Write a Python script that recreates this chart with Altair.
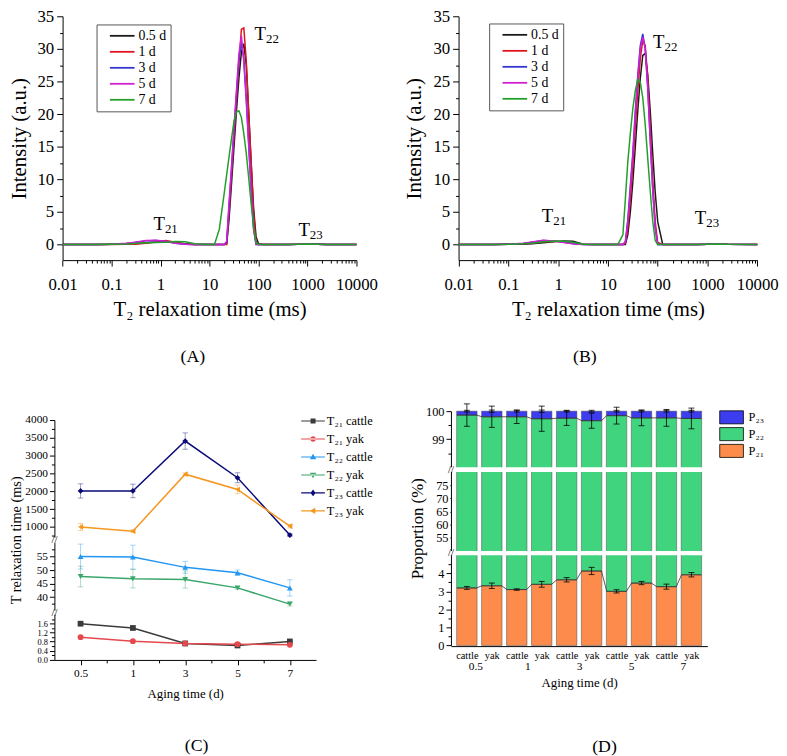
import altair as alt
import pandas as pd

FONT = "Times New Roman, Liberation Serif, serif"
BLACK = "#000000"

# ---------------- Panels A & B : T2 relaxation spectra ----------------
t2_ms = [0.01, 0.05, 0.1, 0.2, 0.3, 0.5, 0.8, 1.3, 2, 3.2, 5, 10, 12.6, 15.8,
         20, 22.4, 25.1, 28.2, 31.6, 35.5, 39.8, 44.7, 50.1, 56.2, 63.1, 70.8,
         79.4, 89.1, 100, 126, 400, 630, 1000, 1600, 2500, 10000]
spec_days = ["0.5 d", "1 d", "3 d", "5 d", "7 d"]
spec_colors = ["#1a1a1a", "#e0141e", "#3535d0", "#d11fd1", "#22a02a"]

a_05d = [0, 0, 0.02, 0.05, 0.12, 0.25, 0.35, 0.4, 0.3, 0.1, 0,
         0, 0, 0, 0, 0.1, 4, 9.5, 15, 20.5, 25.5, 29.5, 30.8, 27.5, 20, 12.5,
         5.5, 1.2, 0.1, 0, 0, 0.03, 0.1, 0.04, 0, 0]
a_1d = [0, 0, 0, 0.02, 0.05, 0.2, 0.4, 0.6, 0.35, 0.05, 0,
        0, 0, 0, 0, 0, 5, 10.7, 16.4, 22, 27.8, 33, 33.2, 28.2, 20.4, 12.6,
        4.8, 0.3, 0, 0, 0, 0.02, 0.08, 0.03, 0, 0]
a_3d = [0, 0, 0.05, 0.15, 0.3, 0.55, 0.6, 0.45, 0.2, 0.02, 0,
        0, 0, 0, 0, 0.3, 6, 11.7, 17.4, 23.1, 28.5, 31, 28.5, 22.5, 15.5, 8.5,
        2.5, 0, 0, 0, 0, 0.02, 0.06, 0.02, 0, 0]
a_5d = [0, 0, 0.05, 0.18, 0.35, 0.6, 0.65, 0.5, 0.2, 0.02, 0,
        0, 0, 0, 0, 0.5, 6.5, 12.2, 18, 23.7, 29.2, 32, 28, 22, 15, 8,
        2.2, 0, 0, 0, 0, 0.02, 0.06, 0.02, 0, 0]
a_7d = [0, 0, 0.02, 0.08, 0.15, 0.25, 0.3, 0.35, 0.45, 0.4, 0.1,
        0, 0, 2.3, 7.9, 10.7, 13.5, 16.3, 18.9, 20.3, 20.5, 19.5, 17, 14, 10.2, 6.2,
        2.7, 0.3, 0, 0, 0, 0.03, 0.08, 0.03, 0, 0]

b_05d = [0, 0, 0.02, 0.05, 0.1, 0.25, 0.4, 0.55, 0.5, 0.05, 0,
         0, 0, 0, 0, 0, 1.5, 5, 9.5, 15, 20.5, 25.5, 29, 29.3, 26, 20.5,
         14, 8, 3.5, 0, 0, 0, 0.04, 0.12, 0.04, 0]
b_1d = [0, 0, 0.03, 0.1, 0.2, 0.4, 0.5, 0.4, 0.2, 0.02, 0,
        0, 0, 0, 0, 0.2, 2.5, 7, 12, 18, 23.5, 28.5, 31.3, 30.5, 25.5, 18,
        10, 3.5, 0.3, 0, 0, 0, 0.03, 0.08, 0.03, 0]
b_3d = [0, 0, 0.05, 0.15, 0.35, 0.6, 0.55, 0.35, 0.1, 0, 0,
        0, 0, 0, 0, 0.4, 3.8, 9, 14, 20.5, 26, 30.5, 32.3, 30, 24, 16,
        8.5, 2.5, 0, 0, 0, 0, 0.03, 0.08, 0.03, 0]
b_5d = [0, 0, 0.05, 0.18, 0.4, 0.65, 0.55, 0.3, 0.1, 0, 0,
        0, 0, 0, 0, 0.4, 3.5, 8.5, 13.5, 20, 25.5, 30, 31.8, 30, 24, 16,
        8.5, 2.5, 0, 0, 0, 0, 0.03, 0.08, 0.03, 0]
b_7d = [0, 0, 0.02, 0.1, 0.2, 0.4, 0.5, 0.5, 0.35, 0.05, 0,
        0, 0, 0, 1.5, 7, 12.7, 17, 20.8, 23.6, 25.3, 24.9, 22.5, 18.3, 13.2, 8.2,
        3.6, 0.6, 0, 0, 0, 0, 0.03, 0.08, 0.03, 0]

peak_subs = ["21", "22", "23"]
a_peak_x = [1.23, 142, 1117]
a_peak_y = [3.1, 32.2, 2.24]
b_peak_x = [0.80, 137, 948]
b_peak_y = [4.3, 31.0, 4.06]

# ---------------- Panel C : relaxation times ----------------
c_days = ["0.5", "1", "3", "5", "7"]
c_series = ["T₂₁ cattle", "T₂₁ yak", "T₂₂ cattle", "T₂₂ yak", "T₂₃ cattle", "T₂₃ yak"]
c_colors = ["#3b3b3b", "#e5484d", "#2196f3", "#3ba66b", "#0a0a78", "#f5961e"]
c_markers = ["square", "circle", "triangle-up", "triangle-down", "diamond", "triangle-left"]
LINE_BAR = "M-1.5,-0.07H1.5V0.07H-1.5Z"
c_legend_paths = [
    LINE_BAR + "M-0.32,-0.32H0.32V0.32H-0.32Z",
    LINE_BAR + "M-0.36,0A0.36,0.36 0 1,0 0.36,0A0.36,0.36 0 1,0 -0.36,0Z",
    LINE_BAR + "M0,-0.42L0.4,0.28H-0.4Z",
    LINE_BAR + "M0,0.42L0.4,-0.28H-0.4Z",
    LINE_BAR + "M0,-0.42L0.32,0L0,0.42L-0.32,0Z",
    LINE_BAR + "M-0.42,0L0.28,-0.4V0.4Z",
]
t21_cattle = [1.60, 1.41, 0.72, 0.63, 0.81]
t21_cattle_sd = [0.06, 0.06, 0.04, 0.04, 0.04]
t21_yak = [1.00, 0.82, 0.72, 0.69, 0.66]
t21_yak_sd = [0.04, 0.03, 0.03, 0.03, 0.03]
t22_cattle = [55.0, 54.8, 51.0, 49.0, 43.4]
t22_cattle_sd = [4.6, 4.4, 2.2, 1.0, 3.0]
t22_yak = [47.6, 46.8, 46.5, 43.4, 37.4]
t22_yak_sd = [3.8, 3.4, 3.2, 0.5, 0.7]
t23_cattle = [2010, 2010, 3410, 2380, 770]
t23_cattle_sd = [200, 190, 230, 140, 40]
t23_yak = [1000, 880, 2480, 2050, 1020]
t23_yak_sd = [100, 40, 40, 120, 50]

# ---------------- Panel D : proportions ----------------
d_days = ["0.5", "1", "3", "5", "7"]
d_breeds = ["cattle", "yak"]
p21 = [3.19, 3.31, 3.10, 3.39, 3.64, 4.13, 3.00, 3.46, 3.26, 3.92]
p21_sd = [0.08, 0.15, 0.04, 0.16, 0.12, 0.20, 0.09, 0.09, 0.14, 0.12]
p22 = [96.67, 96.49, 96.70, 96.34, 96.11, 95.53, 96.84, 96.30, 96.50, 95.82]
p22_sd = [0.40, 0.38, 0.24, 0.45, 0.26, 0.27, 0.30, 0.28, 0.30, 0.37]
p23 = [0.14, 0.20, 0.20, 0.27, 0.25, 0.34, 0.16, 0.24, 0.24, 0.26]
p23_sd = [0.03, 0.04, 0.03, 0.04, 0.03, 0.03, 0.03, 0.03, 0.03, 0.03]
comp_names = ["P₂₃", "P₂₂", "P₂₁"]
comp_colors = ["#3d3df0", "#40d47e", "#fd8c4c"]


def ax(**kw):
    base = dict(grid=False, domainColor=BLACK, tickColor=BLACK, labelColor=BLACK,
                titleColor=BLACK, labelFont=FONT, titleFont=FONT, titleFontWeight="normal",
                domainWidth=1, tickWidth=1, labelFlush=False, labelOverlap=False)
    base.update(kw)
    return alt.Axis(**base)


def panel_title(text, offset, dx):
    return alt.TitleParams(text, orient="bottom", anchor="middle", frame="bounds", font=FONT,
                           fontSize=18, fontWeight="normal", color=BLACK, offset=offset, dx=dx)


LOG_MAJOR = "abs(log(datum.value)/LN10 - round(log(datum.value)/LN10)) < 0.001"
log_ticks = [m * 10.0 ** e for e in range(-2, 4) for m in range(1, 10)] + [10000.0]
int_ticks = [i * 2.5 for i in range(15)]


def spectrum(series, px, py, x_off, plot_w, leg_x, leg_y, title_x, label, label_dx):
    rows = []
    for d, vals in zip(spec_days, series):
        for t, v in zip(t2_ms, vals):
            rows.append({"t2": t, "val": v, "day": d})
    df = pd.DataFrame(rows)
    xs = alt.Scale(type="log", domain=[0.01, 10000], range=[x_off, x_off + plot_w])
    ys = alt.Scale(domain=[-2.4, 35], nice=False, zero=False)
    x_axis = ax(values=log_ticks, labelExpr=f"{LOG_MAJOR} ? format(datum.value, '') : ''",
                tickSize={"condition": {"test": LOG_MAJOR, "value": 6}, "value": 3},
                labelFontSize=17, labelPadding=10.5, title="T₂ relaxation time (ms)",
                titleFontSize=21, titlePadding=7)
    y_axis = ax(values=int_ticks, labelExpr="datum.value % 5 == 0 ? datum.label : ''",
                tickSize={"condition": {"test": "datum.value % 5 == 0", "value": 6}, "value": 3},
                labelFontSize=17, labelPadding=3, offset=-x_off, title="Intensity (a.u.)",
                titleFontSize=21, titleX=title_x, titleBaseline="middle")
    leg = alt.Legend(orient="none", legendX=leg_x, legendY=leg_y, title=None,
                     symbolType="M-2,0H2", symbolSize=156, symbolStrokeWidth=1.8,
                     symbolOffset=14.5, labelOffset=9, labelFont=FONT, labelFontSize=14,
                     labelColor=BLACK, rowPadding=1.2, padding=4, strokeColor="#555",
                     fillColor="white")
    lines = alt.Chart(df).mark_line(strokeWidth=1.5).encode(
        x=alt.X("t2:Q", scale=xs, axis=x_axis),
        y=alt.Y("val:Q", scale=ys, axis=y_axis),
        color=alt.Color("day:N", scale=alt.Scale(domain=spec_days, range=spec_colors), legend=leg),
    )
    adf = pd.DataFrame({"x": px, "y": py, "sub": peak_subs})
    t_main = alt.Chart(adf).mark_text(text="T", align="right", baseline="middle", font=FONT,
                                      fontSize=19, color=BLACK).encode(
        x=alt.X("x:Q", scale=xs, axis=x_axis), y=alt.Y("y:Q", scale=ys, axis=y_axis))
    t_sub = alt.Chart(adf).mark_text(align="left", baseline="middle", dy=5, font=FONT,
                                     fontSize=13, color=BLACK).encode(
        x=alt.X("x:Q", scale=xs, axis=x_axis), y=alt.Y("y:Q", scale=ys, axis=y_axis), text="sub:N")
    return alt.layer(lines, t_main, t_sub).properties(
        width=x_off + plot_w, height=247, title=panel_title(label, 28.5, label_dx))


pA = spectrum([a_05d, a_1d, a_3d, a_5d, a_7d], a_peak_x, a_peak_y, 8.3, 297.7, 42.7, 8.3, -44, "(A)", 0)
pB = spectrum([b_05d, b_1d, b_3d, b_5d, b_7d], b_peak_x, b_peak_y, 7.7, 302.6, 38.7, 7.3, -45, "(B)", -6)

# ---------------- Panel C build ----------------
c_vals = [t21_cattle, t21_yak, t22_cattle, t22_yak, t23_cattle, t23_yak]
c_sds = [t21_cattle_sd, t21_yak_sd, t22_cattle_sd, t22_yak_sd, t23_cattle_sd, t23_yak_sd]
crow = []
for s, m, col, vals, sds in zip(c_series, c_markers, c_colors, c_vals, c_sds):
    for i, (v, e) in enumerate(zip(vals, sds)):
        crow.append({"idx": i, "series": s, "marker": m, "col": col,
                     "val": v, "lo": v - e, "hi": v + e})
cdf = pd.DataFrame(crow)

cx = alt.Scale(domain=[-0.5, 4.5], range=[0, 265])
cy = alt.Scale(type="linear", domain=[0, 2, 35, 60, 700, 4000],
               range=[252.7, 207.2, 203, 134.6, 129.1, 10], nice=False, zero=False)

C_MAJOR = ("(datum.value <= 2 ? abs(datum.value*2.5 - round(datum.value*2.5)) < 0.01 : "
           "(datum.value <= 60 ? datum.value % 5 == 0 : datum.value % 500 == 0))")
c_y_ticks = ([round(i * 0.2, 1) for i in range(10)] + [37.5 + 2.5 * i for i in range(9)]
             + [750 + 250 * i for i in range(14)])
c_day_arr = "[" + ",".join(f"'{d}'" for d in c_days) + "]"
c_x_axis = ax(values=[i * 0.5 for i in range(9)],
              labelExpr=f"datum.value % 1 == 0 ? {c_day_arr}[datum.value] : ''",
              tickSize={"condition": {"test": "datum.value % 1 == 0", "value": 5}, "value": 3},
              labelFontSize=11.5, labelPadding=3, title="Aging time (d)", titleFontSize=13,
              titlePadding=9)
c_y_axis = ax(values=c_y_ticks,
              labelExpr=f"{C_MAJOR} ? (datum.value <= 2 ? format(datum.value, '.1f') : format(datum.value, 'd')) : ''",
              tickSize={"condition": {"test": C_MAJOR, "value": 5}, "value": 3},
              labelFontSize={"condition": {"test": "datum.value <= 2", "value": 8.5}, "value": 11.5},
              labelPadding=2, title="T relaxation time (ms)",
              titleFontSize=14.5, titleX=-38.7, titleBaseline="middle")
c_legend = alt.Legend(orient="none", legendX=254, legendY=3, title=None, padding=0,
                      symbolSize=256, symbolStrokeWidth=0, symbolOpacity=1, labelOffset=6,
                      rowPadding=3.2, labelFont=FONT, labelFontSize=12.5, labelColor=BLACK,
                      labelLimit=200)


def CX():
    return alt.X("idx:Q", scale=cx, axis=c_x_axis)


def CY(field):
    return alt.Y(field, scale=cy, axis=c_y_axis)


c_leg = alt.Chart(cdf).mark_point(filled=True, size=256, opacity=0).encode(
    x=CX(), y=CY("val:Q"),
    color=alt.Color("series:N", scale=alt.Scale(domain=c_series, range=c_colors), legend=c_legend),
    shape=alt.Shape("series:N", scale=alt.Scale(domain=c_series, range=c_legend_paths), legend=c_legend))
c_err = alt.Chart(cdf).mark_rule(strokeWidth=1, opacity=0.4).encode(
    x=CX(), y=CY("lo:Q"), y2="hi:Q", stroke=alt.Stroke("col:N", scale=None))
c_caps = alt.Chart(cdf).transform_fold(["lo", "hi"], as_=["end", "yv"]).mark_point(
    shape="stroke", size=30, strokeWidth=1, opacity=0.4, filled=False).encode(
    x=CX(), y=CY("yv:Q"), stroke=alt.Stroke("col:N", scale=None))
c_lines = alt.Chart(cdf).mark_line(strokeWidth=1.5).encode(
    x=CX(), y=CY("val:Q"), stroke=alt.Stroke("col:N", scale=None))
c_pts = alt.Chart(cdf).mark_point(filled=True, size=34, opacity=1).encode(
    x=CX(), y=CY("val:Q"),
    shape=alt.Shape("marker:N", scale=None), fill=alt.Fill("col:N", scale=None))
c_gaps = alt.Chart(pd.DataFrame({"y0": [2, 60], "y1": [35, 700]})).mark_rect(fill="white").encode(
    x=alt.value(-4), x2=alt.value(4), y=CY("y0:Q"), y2="y1:Q")
c_breaks = alt.Chart(pd.DataFrame({"yb": [18, 380]})).mark_text(
    text="//", font=FONT, fontSize=11, color=BLACK).encode(x=alt.value(0), y=CY("yb:Q"))
pC = alt.layer(c_leg, c_lines, c_err, c_caps, c_pts, c_gaps, c_breaks).properties(
    width=265, height=253, title=panel_title("(C)", 37, 6))

# ---------------- Panel D build ----------------
HALF = 0.394
brow, erow, crow2 = [], [], []
for i in range(10):
    base = 0.0
    for comp, val in [("P₂₁", p21[i]), ("P₂₂", p22[i]), ("P₂₃", p23[i])]:
        brow.append({"pos": i, "comp": comp, "lo": base, "hi": base + val})
        base += val
    for comp, top, sd in [("P₂₁", p21[i], p21_sd[i]), ("P₂₂", p21[i] + p22[i], p22_sd[i]),
                          ("P₂₃", p21[i] + p22[i] + p23[i], p23_sd[i])]:
        erow.append({"pos": i, "lo": top - sd, "hi": top + sd})
    for lvl, top in [("a", p21[i]), ("b", p21[i] + p22[i])]:
        crow2.append({"pos": i - HALF, "lvl": lvl, "top": top})
        crow2.append({"pos": i + HALF, "lvl": lvl, "top": top})
bdf, edf, ldf = pd.DataFrame(brow), pd.DataFrame(erow), pd.DataFrame(crow2)

dxs = alt.Scale(domain=[-0.44, 9.44], range=[0, 259.7])
dys = alt.Scale(type="linear", domain=[0, 5, 50, 80, 98, 100],
                range=[238.3, 147, 142.7, 62.7, 57.7, 1], nice=False, zero=False)
D_MAJOR = "(datum.value >= 50 && datum.value <= 80) ? datum.value % 5 == 0 : datum.value % 1 == 0"
d_y_ticks = ([0.5 * i for i in range(10)] + [52.5 + 2.5 * i for i in range(11)] + [98.5, 99, 99.5, 100])
d_y_axis = ax(values=d_y_ticks, labelExpr=f"({D_MAJOR}) ? format(datum.value, 'd') : ''",
              tickSize={"condition": {"test": D_MAJOR, "value": 5}, "value": 3},
              labelFontSize=12.5, labelPadding=2, title="Proportion (%)", titleFontSize=17,
              titleX=-34, titleBaseline="middle")
breed_arr = "[" + ",".join(f"'{b}'" for b in d_breeds) + "]"
d_x_axis = ax(values=list(range(10)), labelExpr=f"{breed_arr}[datum.value % 2]", ticks=False,
              labelFontSize=10.5, labelPadding=5, title=None)
d_legend = alt.Legend(orient="none", legendX=278, legendY=1, title=None, padding=0,
                      symbolType="M-2.4,-1.32H2.4V1.32H-2.4Z", symbolSize=100,
                      symbolStrokeColor=BLACK, symbolStrokeWidth=0.8, symbolOpacity=1,
                      labelOffset=11, rowPadding=0, labelFont=FONT, labelFontSize=12.5,
                      labelColor=BLACK)


def DXE():
    return alt.X("pos:Q", scale=dxs, axis=d_x_axis)


def DYE(field):
    return alt.Y(field, scale=dys, axis=d_y_axis)


d_bars = alt.Chart(bdf).mark_bar(width=20.7, stroke="#4a4a4a", strokeWidth=0.5).encode(
    x=DXE(), y=DYE("lo:Q"), y2="hi:Q",
    fill=alt.Fill("comp:N", scale=alt.Scale(domain=comp_names, range=comp_colors), legend=d_legend))
d_conn = alt.Chart(ldf).mark_line(stroke="#333333", strokeWidth=0.8).encode(
    x=DXE(), y=DYE("top:Q"), detail="lvl:N")
d_err = alt.Chart(edf).mark_rule(stroke=BLACK, strokeWidth=0.8).encode(
    x=DXE(), y=DYE("lo:Q"), y2="hi:Q")
d_caps = alt.Chart(edf).transform_fold(["lo", "hi"], as_=["end", "yv"]).mark_point(
    shape="stroke", size=36, stroke=BLACK, strokeWidth=0.8, filled=False, opacity=1).encode(
    x=DXE(), y=DYE("yv:Q"))
d_gaps = alt.Chart(pd.DataFrame({"y0": [5, 80], "y1": [50, 98]})).mark_rect(fill="white").encode(
    x=alt.value(-5), x2=alt.value(264), y=DYE("y0:Q"), y2="y1:Q")
d_breaks = alt.Chart(pd.DataFrame({"yb": [27, 89]})).mark_text(
    text="//", font=FONT, fontSize=11, color=BLACK).encode(x=alt.value(0), y=DYE("yb:Q"))
d_main = alt.layer(d_bars, d_conn, d_err, d_caps, d_gaps, d_breaks)

day_pos = [0.5, 2.5, 4.5, 6.5, 8.5]
d_day_arr = "[" + ",".join(f"'{d}'" for d in d_days) + "]"
d_days_layer = alt.Chart(pd.DataFrame({"dpos": day_pos, "day": d_days})).mark_point(opacity=0).encode(
    x=alt.X("dpos:Q", scale=dxs,
            axis=ax(orient="bottom", values=day_pos,
                    labelExpr=f"{d_day_arr}[round((datum.value - 0.5) / 2)]",
                    ticks=False, domain=False, labelPadding=15, labelFontSize=11.5,
                    title="Aging time (d)", titleFontSize=13, titlePadding=4)))
pD = alt.layer(d_main, d_days_layer).resolve_scale(x="independent").properties(
    width=259.7, height=239, title=panel_title("(D)", 50, 18))

chart = alt.concat(pA, pB, pC, pD, columns=2, spacing={"row": 152, "column": 95.7},
                   bounds="flush").resolve_scale(
    color="independent", fill="independent", stroke="independent", shape="independent"
).properties(padding={"left": 0, "top": -5.5, "right": 0, "bottom": 0}
).configure_view(stroke=None).configure_axis(labelOverlap=False)

chart.save("out.html", embed_options={"renderer": "svg", "actions": False})
